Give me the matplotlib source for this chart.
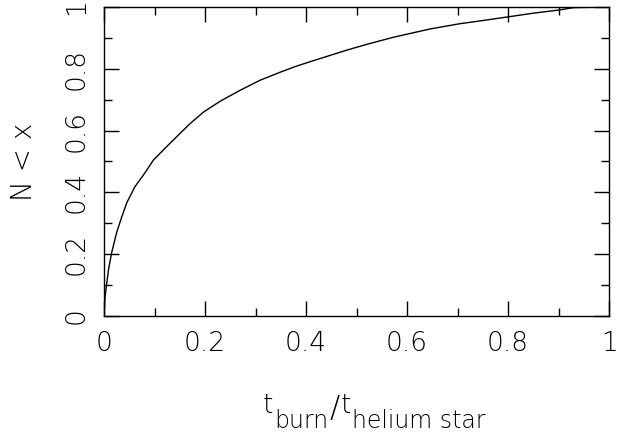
import numpy as np
import matplotlib
matplotlib.use("Agg")
import matplotlib.pyplot as plt
from matplotlib.ticker import MultipleLocator

# cumulative fraction
frac_t = [0.0, 0.002, 0.005, 0.009, 0.015, 0.025, 0.035, 0.045, 0.061, 0.078,
          0.098, 0.124, 0.15, 0.17, 0.197, 0.23, 0.269, 0.309, 0.349, 0.38,
          0.414, 0.48, 0.52, 0.573, 0.646, 0.705, 0.745, 0.80, 0.85, 0.90,
          0.93, 1.0]
cum_n = [0.0, 0.06, 0.1, 0.15, 0.204, 0.27, 0.32, 0.366, 0.418, 0.456,
         0.505, 0.548, 0.59, 0.622, 0.66, 0.695, 0.73, 0.763, 0.789, 0.808,
         0.826, 0.86, 0.879, 0.902, 0.929, 0.946, 0.955, 0.968, 0.98, 0.99,
         0.998, 1.0]
ticks = [0, 0.2, 0.4, 0.6, 0.8, 1.0]
tick_labels = ["0", "0.2", "0.4", "0.6", "0.8", "1"]

plt.rcParams['font.family'] = ['DejaVu Sans']

W, H = 627, 432
fig = plt.figure(figsize=(W / 100, H / 100), dpi=100)
ax = fig.add_axes([104 / W, 1 - 316 / H, 505 / W, 309 / H])

ax.plot(frac_t, cum_n, color='black', lw=1.0)
ax.set_xlim(0, 1)
ax.set_ylim(0, 1)

ax.set_xticks(ticks)
ax.set_xticklabels(tick_labels)
ax.set_yticks(ticks)
ax.set_yticklabels(tick_labels, rotation=90, va='center')
ax.xaxis.set_minor_locator(MultipleLocator(0.1))
ax.yaxis.set_minor_locator(MultipleLocator(0.1))
ax.tick_params(which='both', direction='in', top=True, right=True, width=1.0)
ax.tick_params(which='major', length=11)
ax.tick_params(which='minor', length=5.8)
ax.tick_params(axis='x', which='major', labelsize=19, pad=11)
ax.tick_params(axis='y', which='major', labelsize=19, pad=11)
for lab in ax.get_xticklabels() + ax.get_yticklabels():
    lab.set_fontweight('light')
for s in ax.spines.values():
    s.set_linewidth(1.0)

# y label
fig.text(24.5 / W, 1 - 161.5 / H, 'N < x', rotation=90, ha='center', va='center',
         fontsize=20, fontweight='light')

# x label built piece by piece: t_burn / t_helium star
pieces = [('t', 19, 0), ('burn', 17, -15), ('/', 22, -4), ('t', 19, 0),
          ('helium star', 17, -15)]
renderer = fig.canvas.get_renderer()
x0 = 263
base = 413
for txt, size, dy in pieces:
    t = fig.text(x0 / W, 1 - (base - dy) / H, txt, fontsize=size,
                 fontweight='light', ha='left', va='baseline')
    bb = t.get_window_extent(renderer)
    x0 += bb.width + 1

fig.savefig('out.png', dpi=100)
